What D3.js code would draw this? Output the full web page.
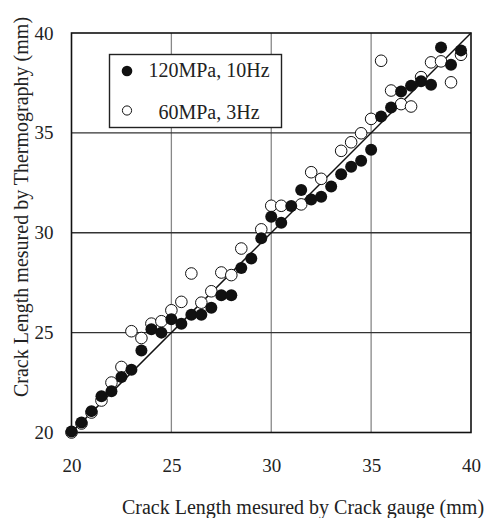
<!DOCTYPE html>
<html>
<head>
<meta charset="utf-8">
<script src="https://cdn.jsdelivr.net/npm/d3@7"></script>
<style>
  body { margin: 0; background: #fff; }
  svg text { font-family: "Liberation Serif", "Times New Roman", serif; fill: #222; }
</style>
</head>
<body>
<svg id="chart" width="491" height="518"></svg>
<script>
// crack gauge readings (x) shared by both series
var gauge120 = [20, 20.5, 21, 21.5, 22, 22.5, 23, 23.5, 24, 24.5, 25, 25.5, 26, 26.5, 27, 27.5, 28, 28.5, 29, 29.5,
  30, 30.5, 31, 31.5, 32, 32.5, 33, 33.5, 34, 34.5, 35, 35.5, 36, 36.5, 37, 37.5, 38, 38.5, 39, 39.5];
// thermography readings, 120MPa 10Hz (filled)
var thermo120 = [20.05, 20.5, 21.07, 21.82, 22.07, 22.78, 23.14, 24.11, 25.17, 25.0, 25.67, 25.45, 25.9, 25.9, 26.25, 26.87, 26.87, 28.24, 28.71, 29.72,
  30.8, 30.5, 31.34, 32.14, 31.67, 31.8, 32.31, 32.93, 33.31, 33.6, 34.15, 35.82, 36.27, 37.07, 37.36, 37.58, 37.41, 39.28, 38.41, 39.13];
// 60MPa 3Hz (open)
var gauge60 = [20, 20.5, 21, 21.5, 22, 22.5, 23, 23.5, 24, 24.5, 25, 25.5, 26, 26.5, 27, 27.5, 28, 28.5, 29.5,
  30, 30.5, 31.5, 32, 32.5, 33.5, 34, 34.5, 35, 35.5, 36, 36.5, 37, 37.5, 38, 38.5, 39, 39.5];
var thermo60 = [20.0, 20.45, 21.0, 21.6, 22.5, 23.28, 25.07, 24.73, 25.45, 25.57, 26.12, 26.54, 27.96, 26.5, 27.07, 28.01, 27.88, 29.21, 30.17,
  31.35, 31.35, 31.42, 33.03, 32.7, 34.1, 34.53, 34.98, 35.7, 38.61, 37.12, 36.44, 36.32, 37.79, 38.53, 38.58, 37.53, 38.91];
var ticks = [20, 25, 30, 35, 40];
var legendLabels = ["120MPa, 10Hz", "60MPa, 3Hz"];

var svg = d3.select("#chart");
var plotL = 71.5, plotR = 471, plotT = 33, plotB = 432.5;

var x = d3.scaleLinear().domain([20, 40]).range([plotL, plotR]);
var y = d3.scaleLinear().domain([20, 40]).range([plotB, plotT]);

// -- grid
svg.append("g").selectAll("line")
  .data(ticks.slice(1, -1))
  .enter().append("line")
  .attr("x1", function(d) { return x(d); })
  .attr("x2", function(d) { return x(d); })
  .attr("y1", plotT).attr("y2", plotB)
  .attr("stroke", "#888").attr("stroke-width", 1.3);
svg.append("g").selectAll("line")
  .data(ticks.slice(1, -1))
  .enter().append("line")
  .attr("y1", function(d) { return y(d); })
  .attr("y2", function(d) { return y(d); })
  .attr("x1", plotL).attr("x2", plotR)
  .attr("stroke", "#333").attr("stroke-width", 1.3);

// -- axes (labels only)
var xAxis = svg.append("g")
  .attr("transform", "translate(0," + plotB + ")")
  .call(d3.axisBottom(x).tickValues(ticks).tickSize(0).tickPadding(26));
var yAxis = svg.append("g")
  .attr("transform", "translate(" + plotL + ",0)")
  .call(d3.axisLeft(y).tickValues(ticks).tickSize(0).tickPadding(18));
[xAxis, yAxis].forEach(function(a) {
  a.select(".domain").remove();
  a.attr("font-family", null).attr("font-size", null);
  a.selectAll("text").attr("font-size", 19).style("fill", "#222");
});

// -- frame
svg.append("rect")
  .attr("x", plotL).attr("y", plotT)
  .attr("width", plotR - plotL).attr("height", plotB - plotT)
  .attr("fill", "none").attr("stroke", "#111").attr("stroke-width", 1.6);

// -- legend box
var lg = svg.append("g");
lg.append("rect")
  .attr("x", 109.5).attr("y", 54.5).attr("width", 172).attr("height", 73)
  .attr("fill", "#fff").attr("stroke", "#222").attr("stroke-width", 1.4);
lg.append("circle").attr("cx", 127).attr("cy", 71).attr("r", 5.3).attr("fill", "#111");
lg.append("circle").attr("cx", 127).attr("cy", 110.5).attr("r", 4.6)
  .attr("fill", "#fff").attr("stroke", "#111").attr("stroke-width", 1);
lg.selectAll("text.lab")
  .data(legendLabels)
  .enter().append("text")
  .attr("class", "lab")
  .attr("x", 209).attr("y", function(d, i) { return i === 0 ? 77 : 118.5; })
  .attr("text-anchor", "middle")
  .attr("font-size", 20)
  .text(function(d) { return d; });

// -- 1:1 line
svg.append("line")
  .attr("x1", x(20)).attr("y1", y(20))
  .attr("x2", x(40)).attr("y2", y(40))
  .attr("stroke", "#111").attr("stroke-width", 1.5);

// -- open circles (60MPa)
svg.append("g").selectAll("circle")
  .data(gauge60)
  .enter().append("circle")
  .attr("cx", function(d) { return x(d); })
  .attr("cy", function(d, i) { return y(thermo60[i]); })
  .attr("r", 5.8)
  .attr("fill", "#fff").attr("stroke", "#111").attr("stroke-width", 1);

// -- filled circles (120MPa)
svg.append("g").selectAll("circle")
  .data(gauge120)
  .enter().append("circle")
  .attr("cx", function(d) { return x(d); })
  .attr("cy", function(d, i) { return y(thermo120[i]); })
  .attr("r", 6)
  .attr("fill", "#111");

// -- axis titles
svg.append("text")
  .attr("x", 303).attr("y", 514)
  .attr("text-anchor", "middle")
  .attr("font-size", 20)
  .text("Crack Length mesured by Crack gauge (mm)");
svg.append("text")
  .attr("transform", "translate(28,207) rotate(-90)")
  .attr("text-anchor", "middle")
  .attr("font-size", 20)
  .text("Crack Length mesured by Thermography (mm)");
</script>
</body>
</html>
